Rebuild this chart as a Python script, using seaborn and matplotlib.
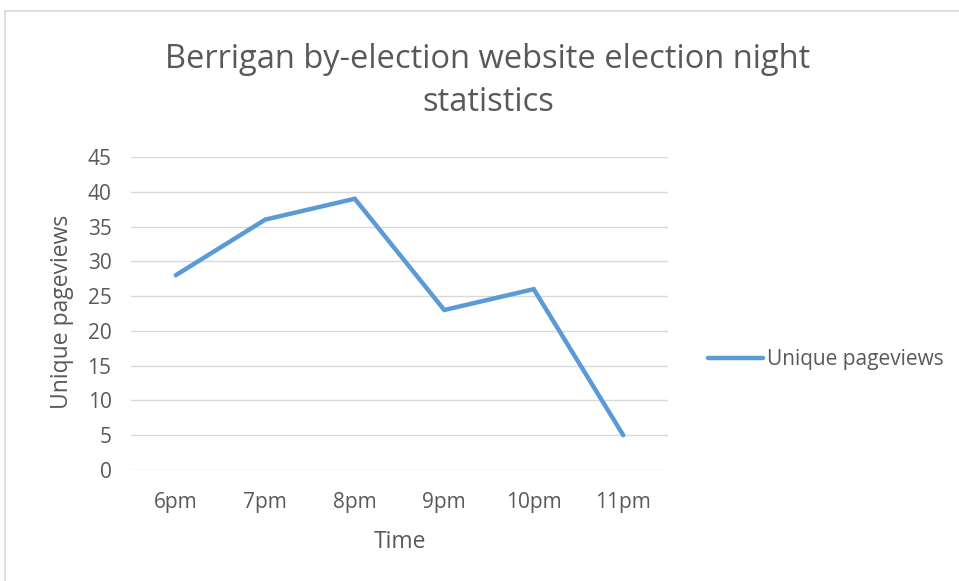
import matplotlib
matplotlib.use("Agg")
import matplotlib.pyplot as plt
import seaborn as sns
import pandas as pd

times = ["6pm", "7pm", "8pm", "9pm", "10pm", "11pm"]
pageviews = [28, 36, 39, 23, 26, 5]
series_name = "Unique pageviews"
title = "Berrigan by-election website election night\nstatistics"
y_ticks = [0, 5, 10, 15, 20, 25, 30, 35, 40, 45]

df = pd.DataFrame({"Time": times, series_name: pageviews})

sns.set_theme(style="white")
plt.rcParams['font.family'] = ['Open Sans', 'DejaVu Sans']

txt = "#595959"
fig = plt.figure(figsize=(9.59, 5.81), dpi=100)
ax = fig.add_axes([131/959, 1-470/581, (668-131)/959, (470-157)/581])

sns.lineplot(data=df, x="Time", y=series_name, ax=ax, color="#5B9BD5",
             linewidth=3.2, label=series_name, sort=False,
             solid_capstyle="round", solid_joinstyle="miter")

ax.set_xlim(-0.5, len(times) - 0.5)
ax.set_ylim(0, 45)
ax.set_yticks(y_ticks)
ax.yaxis.grid(True, color="#D9D9D9", linewidth=1)
ax.xaxis.grid(False)
for s in ax.spines.values():
    s.set_visible(False)
ax.tick_params(axis="both", colors=txt, labelsize=15, length=0)
ax.tick_params(axis="y", pad=14)
ax.tick_params(axis="x", pad=16)
ax.set_xlabel("Time", color=txt, fontsize=16.5)
ax.set_ylabel("Unique pageviews", color=txt, fontsize=16.5)
ax.xaxis.set_label_coords(400/959, 1-542/581, transform=fig.transFigure)
ax.xaxis.label.set_va("center")
ax.yaxis.set_label_coords(62/959, 1-312/581, transform=fig.transFigure)
ax.yaxis.label.set_va("center")

fig.text(488/959, 1-81/581, title, ha="center", va="center", color=txt,
         fontsize=23.5, linespacing=1.42)

leg = ax.legend(loc="center left", bbox_to_anchor=(708/959, 1-360/581),
                bbox_transform=fig.transFigure, frameon=False,
                fontsize=15, handlelength=2.64, handletextpad=0.2,
                borderpad=0, borderaxespad=0)
for t in leg.get_texts():
    t.set_color(txt)

# outer chart border
fig.add_artist(plt.Line2D([5/959, 5/959], [0, 1-11/581], transform=fig.transFigure,
                          color="#D9D9D9", linewidth=1.2))
fig.add_artist(plt.Line2D([5/959, 1], [1-11/581, 1-11/581], transform=fig.transFigure,
                          color="#D9D9D9", linewidth=1.2))

fig.savefig("out.png", dpi=100)
